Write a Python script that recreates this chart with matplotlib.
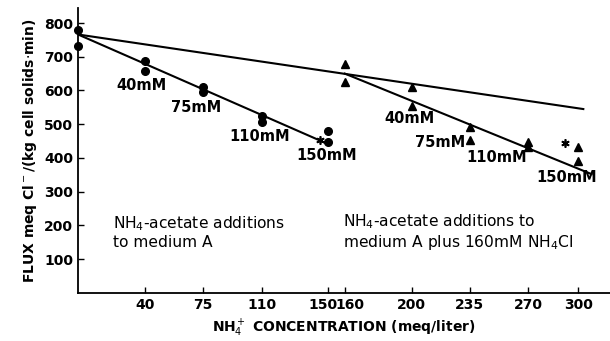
import matplotlib
matplotlib.use("Agg")
import matplotlib.pyplot as plt
import matplotlib.transforms as mtransforms

# medium A + NH4-acetate (circles)
circ_x = [0, 0, 40, 40, 75, 75, 110, 110, 150, 150]
circ_y = [778, 733, 688, 658, 611, 596, 525, 507, 480, 447]
# medium A + 160mM NH4Cl + NH4-acetate (triangles)
tri_x = [160, 160, 200, 200, 235, 235, 270, 270, 300, 300]
tri_y = [679, 626, 611, 554, 492, 453, 447, 432, 432, 390]
# asterisks
star_x = [145, 292]
star_y = [453, 443]

# fitted lines (end points)
upper_x = [0, 303]
upper_y = [766, 545]
low1_x = [0, 150]
low1_y = [766, 441]
low2_x = [160, 308]
low2_y = [650, 352]

conc_labels = ["40mM", "75mM", "110mM", "150mM"]
left_lab_x = [38, 71, 109, 149]
left_lab_y = [614, 551, 465, 408]
right_lab_x = [199, 217, 251, 293]
right_lab_y = [516, 447, 402, 343]

xticks = [40, 75, 110, 150, 160, 200, 235, 270, 300]
yticks = [100, 200, 300, 400, 500, 600, 700, 800]

plt.rcParams['font.family'] = ['DejaVu Sans']

fig = plt.figure(figsize=(6.10, 3.41), dpi=100)
ax = fig.add_axes([0.128, 0.141, 0.872, 0.836])

ax.plot(upper_x, upper_y, color='black', lw=1.5)
ax.plot(low1_x, low1_y, color='black', lw=1.5)
ax.plot(low2_x, low2_y, color='black', lw=1.5)

ax.plot(circ_x, circ_y, 'o', color='black', ms=5.5, clip_on=False)
ax.plot(tri_x, tri_y, '^', color='black', ms=6)
ax.plot(star_x, star_y, marker=(6, 2, 0), ls='none', color='black', ms=6, mew=1.2)

for t, x, y in zip(conc_labels, left_lab_x, left_lab_y):
    ax.text(x, y, t, ha='center', va='center', fontsize=10.5, fontweight='bold')
for t, x, y in zip(conc_labels, right_lab_x, right_lab_y):
    ax.text(x, y, t, ha='center', va='center', fontsize=10.5, fontweight='bold')

ax.text(21, 180, "NH$_4$-acetate additions\nto medium A", ha='left', va='center',
        fontsize=11.2, linespacing=1.2)
ax.text(159, 180, "NH$_4$-acetate additions to\nmedium A plus 160mM NH$_4$Cl", ha='left',
        va='center', fontsize=11.2, linespacing=1.2)

ax.set_xlim(0, 319)
ax.set_ylim(0, 845)
ax.set_xticks(xticks)
ax.set_yticks(yticks)
ax.tick_params(direction='in', length=4, width=1, labelsize=10)
for lbl in ax.get_xticklabels() + ax.get_yticklabels():
    lbl.set_fontweight('bold')

# 150 and 160 sit close together, nudge them apart
xl = ax.get_xticklabels()
xl[3].set_transform(xl[3].get_transform() + mtransforms.ScaledTranslation(-5 / 100, 0, fig.dpi_scale_trans))
xl[4].set_transform(xl[4].get_transform() + mtransforms.ScaledTranslation(5 / 100, 0, fig.dpi_scale_trans))

ax.spines['top'].set_visible(False)
ax.spines['right'].set_visible(False)
ax.spines['left'].set_linewidth(1.3)
ax.spines['bottom'].set_linewidth(1.3)

ax.set_xlabel("NH$_4^+$ CONCENTRATION (meq/liter)", fontsize=10, fontweight='bold', labelpad=4)
ax.set_ylabel("FLUX meq Cl$^-$/(kg cell solids$\\cdot$min)", fontsize=10, fontweight='bold', labelpad=4)

fig.savefig("out.png", dpi=100)
